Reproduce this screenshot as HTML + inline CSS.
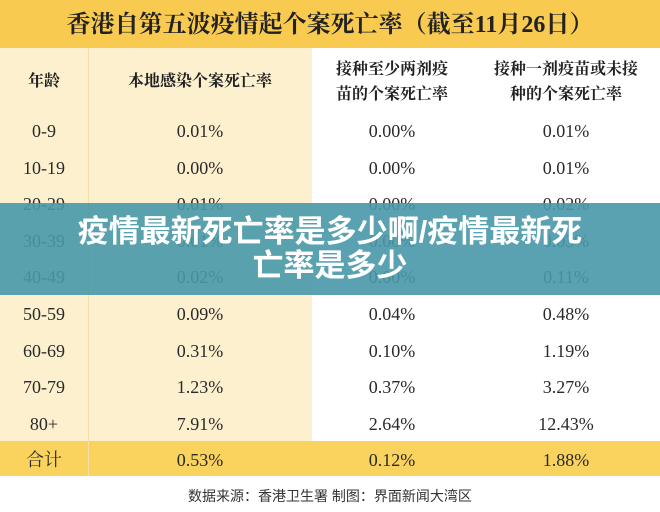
<!DOCTYPE html>
<html><head><meta charset="utf-8"><style>
*{margin:0;padding:0;box-sizing:border-box}
body{width:660px;height:512px;overflow:hidden;background:#fff;position:relative;font-family:"Liberation Serif","Noto Serif CJK SC",serif;color:#333}
.abs{position:absolute}
.title{left:0;top:0;width:660px;height:48px;background:#f8cb50;font-size:24px;font-weight:bold;text-align:center;line-height:50px;color:#222}
.lbg{left:0;top:48px;width:312px;height:393px;background:#fdf0cf}
.div{left:88px;top:48px;width:1px;height:428px;background:#f5dfa8}
.total{left:0;top:441px;width:660px;height:35px;background:#f9d35e}
.cell{position:absolute;text-align:center;font-size:18px;height:37px;line-height:37px;color:#2a2a2a}
.h{font-weight:bold;font-size:16px;color:#222}
.overlay{left:0;top:203px;width:660px;height:92px;background:rgba(72,152,170,0.9);color:#fff;font-family:"Liberation Sans","Noto Sans CJK SC",sans-serif;font-weight:bold;font-size:31px;text-align:center;line-height:34px;padding-top:12px}
.foot{left:0;top:486px;width:660px;text-align:center;font-size:14px;font-family:"Liberation Sans","Noto Sans CJK SC",sans-serif;color:#333}
</style></head><body>
<div class="abs title">香港自第五波疫情起个案死亡率（截至11月26日）</div>
<div class="abs lbg"></div>
<div class="abs total"></div>
<div class="abs div"></div>
<div class="cell h" style="left:0;width:88px;top:63px">年龄</div>
<div class="cell h" style="left:88px;width:224px;top:63px">本地感染个案死亡率</div>
<div class="abs h" style="left:312px;width:160px;top:57px;text-align:center;line-height:25px">接种至少两剂疫<br>苗的个案死亡率</div>
<div class="abs h" style="left:472px;width:188px;top:57px;text-align:center;line-height:25px">接种一剂疫苗或未接<br>种的个案死亡率</div>
<div id="rows"></div>
<script>
var d=[["0-9","0.01%","0.00%","0.01%"],["10-19","0.00%","0.00%","0.01%"],["20-29","0.01%","0.00%","0.02%"],["30-39","0.01%","0.00%","0.03%"],["40-49","0.02%","0.00%","0.11%"],["50-59","0.09%","0.04%","0.48%"],["60-69","0.31%","0.10%","1.19%"],["70-79","1.23%","0.37%","3.27%"],["80+","7.91%","2.64%","12.43%"],["合计","0.53%","0.12%","1.88%"]];
var h="";for(var i=0;i<d.length;i++){var y=113+i*36.6;var L=[[0,88],[88,224],[312,160],[472,188]];for(var j=0;j<4;j++){h+='<div class="cell" style="left:'+L[j][0]+'px;width:'+L[j][1]+'px;top:'+y+'px">'+d[i][j]+'</div>';}}
document.getElementById("rows").innerHTML=h;
</script>
<div class="abs overlay">疫情最新死亡率是多少啊/疫情最新死<br>亡率是多少</div>
<div class="abs foot">数据来源：香港卫生署 制图：界面新闻大湾区</div>
</body></html>
